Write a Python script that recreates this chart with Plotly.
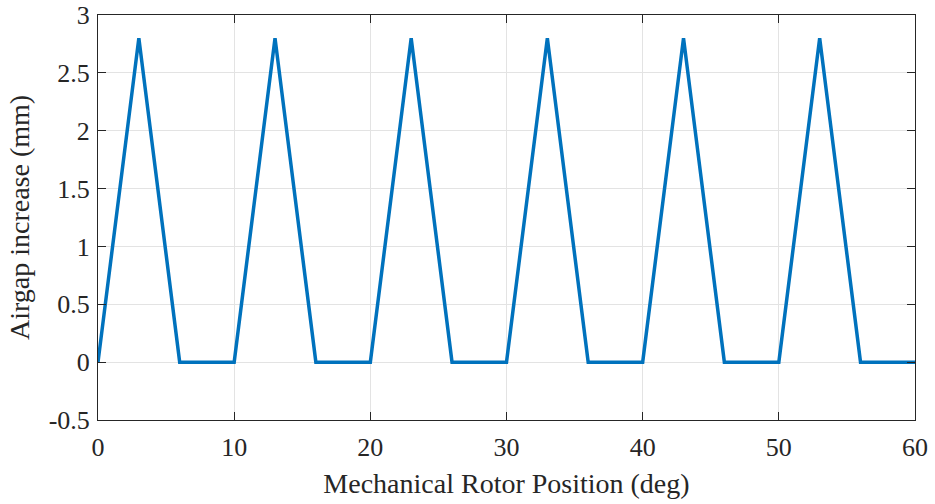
import plotly.graph_objects as go

x_pos = [0, 3, 6, 10, 13, 16, 20, 23, 26, 30, 33, 36, 40, 43, 46, 50, 53, 56, 60]
airgap = [0, 2.8, 0, 0, 2.8, 0, 0, 2.8, 0, 0, 2.8, 0, 0, 2.8, 0, 0, 2.8, 0, 0]
x_ticks = [0, 10, 20, 30, 40, 50, 60]
y_ticks = [-0.5, 0, 0.5, 1, 1.5, 2, 2.5, 3]
y_labels = ["-0.5", "0", "0.5", "1", "1.5", "2", "2.5", "3"]

fig = go.Figure()
fig.add_trace(go.Scatter(x=x_pos, y=airgap, mode="lines",
                         line=dict(color="#0072BD", width=3.5), showlegend=False))

FAM = "Liberation Serif, Times New Roman, serif"
tickfont = dict(family=FAM, size=26, color="#262626")
titlefont = dict(family=FAM, size=28, color="#262626")
axcommon = dict(showline=True, linecolor="#262626", linewidth=1, mirror="allticks",
                ticks="inside", ticklen=8, tickcolor="#262626", tickwidth=1,
                showgrid=True, gridcolor="#E3E3E3", gridwidth=1, zeroline=False,
                tickfont=tickfont, automargin=False)
fig.update_xaxes(range=[0, 60], tickvals=x_ticks, ticklabelstandoff=4,
                 title=dict(text="Mechanical Rotor Position (deg)", font=titlefont, standoff=12),
                 **axcommon)
fig.update_yaxes(range=[-0.5, 3], tickvals=y_ticks, ticktext=y_labels, ticklabelstandoff=2,
                 title=dict(text="Airgap increase (mm)", font=titlefont, standoff=10),
                 **axcommon)
fig.update_layout(width=935, height=504, paper_bgcolor="white", plot_bgcolor="white",
                  margin=dict(l=98, r=20, t=15, b=84), font=dict(family=FAM))
fig.write_html("out.html")
